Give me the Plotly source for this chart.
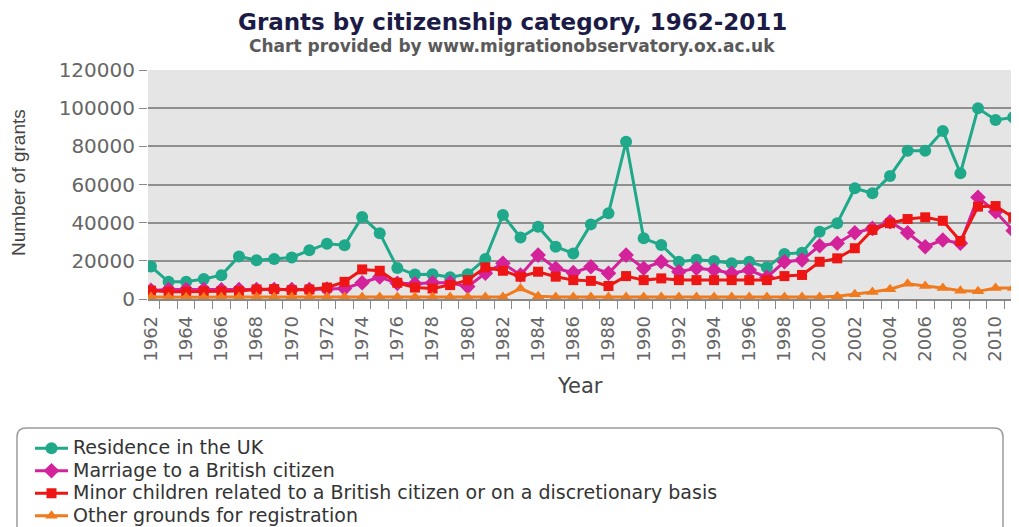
import plotly.graph_objects as go

years = list(range(1962, 2012))

residence = [17000, 9000, 9000, 10500, 12500, 22300, 20300, 21000, 21800, 25500,
             29000, 28200, 43000, 34500, 16300, 12800, 13000, 11400, 13000, 21000,
             44000, 32200, 37900, 27400, 23900, 39100, 44900, 82400, 31800, 28300,
             19500, 20600, 19900, 18700, 19500, 16600, 23600, 24300, 35300, 39700,
             58000, 55400, 64500, 77700, 77700, 88000, 65900, 99900, 93800, 95200]

marriage = [4500, 5000, 5000, 5000, 4800, 5000, 5000, 5000, 5000, 5000,
            5200, 5500, 8500, 11500, 8200, 8000, 8500, 8500, 6500, 13500,
            18700, 12600, 23000, 16100, 13800, 16900, 13500, 23000, 16100, 19500,
            14300, 16100, 15200, 13500, 15200, 11400, 19500, 20400, 27900, 29200,
            34700, 37000, 40500, 34700, 27400, 30900, 29200, 53300, 45700, 35800]

minors = [4400, 3800, 3800, 4000, 4000, 4200, 5000, 5200, 4700, 5000,
          6000, 9000, 15500, 14800, 8500, 6000, 5500, 7300, 9900, 16600,
          14800, 11700, 14300, 11700, 9900, 9500, 6800, 12000, 9900, 10800,
          9900, 9900, 9900, 9900, 9900, 9900, 12000, 12600, 19500, 21300,
          26600, 36200, 39700, 41900, 42800, 41000, 30400, 48400, 48700, 42800]

other = [1000, 900, 900, 900, 1000, 1000, 1000, 1000, 1000, 1000,
         1000, 1000, 1000, 1000, 1000, 1000, 1000, 1000, 1000, 1000,
         1000, 5500, 1500, 1000, 1000, 1000, 1000, 1000, 1000, 1000,
         1000, 1000, 1000, 1000, 1000, 1000, 1000, 1000, 1000, 1500,
         2500, 3700, 5100, 8000, 6800, 5800, 4300, 4000, 5800, 5800]

series_names = ["Residence in the UK",
                "Marriage to a British citizen",
                "Minor children related to a British citizen or on a discretionary basis",
                "Other grounds for registration"]

tick_years = list(range(1962, 2011, 2))

fig = go.Figure()
styles = [
    (residence, "#1fa98a", "circle", 12),
    (marriage, "#d3229a", "diamond", 12),
    (minors, "#ee1515", "square", 10),
    (other, "#f07a1e", "triangle-up", 11),
]
for (vals, col, sym, sz), name in zip(styles, series_names):
    fig.add_trace(go.Scatter(
        x=years, y=vals, mode="lines+markers",
        name=f"<span style='font-size:19px'>{name}</span>",
        hovertemplate="%{x}: %{y}<extra>" + name + "</extra>",
        line=dict(color=col, width=3),
        marker=dict(symbol=sym, size=sz, color=col),
    ))

# page body has an 8px margin: figure coords = screen coords - 8
OFF = 8
W, H = 1019 - OFF, 527 - OFF
L = 148 - OFF          # plot left
T = 70 - OFF           # plot top
BOT = 299 - OFF        # plot bottom
B = H - BOT
pw, ph = W - L, BOT - T


def px(sx):
    return (sx - OFF - L) / pw


def py(sy):
    return (BOT - (sy - OFF)) / ph


fig.update_layout(
    width=W, height=H,
    margin=dict(l=L, r=0, t=T, b=B, pad=0, autoexpand=False),
    paper_bgcolor="white",
    plot_bgcolor="#e5e5e5",
    showlegend=True,
    legend=dict(
        x=px(30), y=py(432), xanchor="left", yanchor="top",
        font=dict(family="DejaVu Sans", size=15, color="#333"),
        bgcolor="rgba(0,0,0,0)", borderwidth=0, itemwidth=33,
        tracegroupgap=0,
    ),
    xaxis=dict(
        range=[1961.83, 2011.33],
        tickmode="array", tickvals=tick_years, ticktext=[str(v) for v in tick_years],
        tickangle=-90,
        ticks="outside", ticklen=8, tickcolor="rgba(0,0,0,0)",
        minor=dict(ticks="outside", ticklen=8, tickcolor="#888", tick0=1961.5, dtick=1,
                   showgrid=False),
        showgrid=False, zeroline=False,
        showline=True, linecolor="#888", linewidth=1.5,
        tickfont=dict(family="DejaVu Sans", size=18, color="#666"),
    ),
    yaxis=dict(
        range=[0, 120000], tickvals=[0, 20000, 40000, 60000, 80000, 100000, 120000],
        ticktext=["0", "20000", "40000", "60000", "80000", "100000", "120000"],
        ticks="outside", ticklen=8, tickcolor="#888",
        showgrid=True, gridcolor="#8f8f8f", gridwidth=1.5,
        zeroline=False, showline=False,
        tickfont=dict(family="DejaVu Sans", size=20, color="#666"),
    ),
)

annots = [
    dict(text="<b>Grants by citizenship category, 1962-2011</b>", x=px(512), y=py(21.5),
         font=dict(family="DejaVu Sans", size=23, color="#1b1b46")),
    dict(text="<b>Chart provided by www.migrationobservatory.ox.ac.uk</b>", x=px(512), y=py(45.5),
         font=dict(family="DejaVu Sans", size=17, color="#5a5a5a")),
    dict(text="Number of grants", x=px(18), y=py(183), textangle=-90,
         font=dict(family="Liberation Sans", size=19, color="#444")),
    dict(text="Year", x=px(580), y=py(386),
         font=dict(family="DejaVu Sans", size=21, color="#444")),
]
for a in annots:
    fig.add_annotation(xref="paper", yref="paper", showarrow=False, borderpad=0,
                       xanchor="center", yanchor="middle", **a)

# rounded legend frame
x0, x1 = px(17), px(1003)
yt, yb = py(428), py(545)
dx, dy = 9 / pw, 9 / ph
path = (f"M {x0+dx},{yt} L {x1-dx},{yt} Q {x1},{yt} {x1},{yt-dy} L {x1},{yb} "
        f"L {x0},{yb} L {x0},{yt-dy} Q {x0},{yt} {x0+dx},{yt} Z")
fig.add_shape(type="path", path=path, xref="paper", yref="paper",
              line=dict(color="#9a9a9a", width=1.5), fillcolor="rgba(0,0,0,0)")

fig.write_html("out.html")
